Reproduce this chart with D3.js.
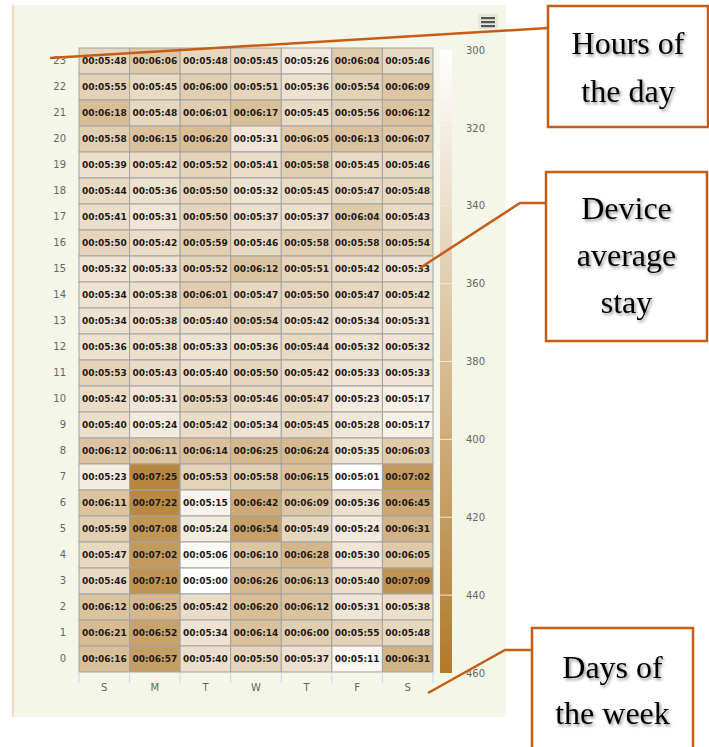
<!DOCTYPE html>
<html>
<head>
<meta charset="utf-8">
<script src="https://cdn.jsdelivr.net/npm/d3@7"></script>
<style>
  html, body { margin: 0; padding: 0; background: #fff; }
  svg { display: block; }
</style>
</head>
<body>
<div class="chart"></div>
<script>
const W = 709, H = 747;

const DAYS = ["S", "M", "T", "W", "T", "F", "S"];
const HOURS = d3.range(23, -1, -1); // top row is 23
// average stay per hour (rows 23..0), per day (S..S)
const STAY = [
  ["5:48", "6:06", "5:48", "5:45", "5:26", "6:04", "5:46"],
  ["5:55", "5:45", "6:00", "5:51", "5:36", "5:54", "6:09"],
  ["6:18", "5:48", "6:01", "6:17", "5:45", "5:56", "6:12"],
  ["5:58", "6:15", "6:20", "5:31", "6:05", "6:13", "6:07"],
  ["5:39", "5:42", "5:52", "5:41", "5:58", "5:45", "5:46"],
  ["5:44", "5:36", "5:50", "5:32", "5:45", "5:47", "5:48"],
  ["5:41", "5:31", "5:50", "5:37", "5:37", "6:04", "5:43"],
  ["5:50", "5:42", "5:59", "5:46", "5:58", "5:58", "5:54"],
  ["5:32", "5:33", "5:52", "6:12", "5:51", "5:42", "5:33"],
  ["5:34", "5:38", "6:01", "5:47", "5:50", "5:47", "5:42"],
  ["5:34", "5:38", "5:40", "5:54", "5:42", "5:34", "5:31"],
  ["5:36", "5:38", "5:33", "5:36", "5:44", "5:32", "5:32"],
  ["5:53", "5:43", "5:40", "5:50", "5:42", "5:33", "5:33"],
  ["5:42", "5:31", "5:53", "5:46", "5:47", "5:23", "5:17"],
  ["5:40", "5:24", "5:42", "5:34", "5:45", "5:28", "5:17"],
  ["6:12", "6:11", "6:14", "6:25", "6:24", "5:35", "6:03"],
  ["5:23", "7:25", "5:53", "5:58", "6:15", "5:01", "7:02"],
  ["6:11", "7:22", "5:15", "6:42", "6:09", "5:36", "6:45"],
  ["5:59", "7:08", "5:24", "6:54", "5:49", "5:24", "6:31"],
  ["5:47", "7:02", "5:06", "6:10", "6:28", "5:30", "6:05"],
  ["5:46", "7:10", "5:00", "6:26", "6:13", "5:40", "7:09"],
  ["6:12", "6:25", "5:42", "6:20", "6:12", "5:31", "5:38"],
  ["6:21", "6:52", "5:34", "6:14", "6:00", "5:55", "5:48"],
  ["6:16", "6:57", "5:40", "5:50", "5:37", "5:11", "6:31"]
];
const LEGEND_TICKS = [300, 320, 340, 360, 380, 400, 420, 440, 460];
const CALLOUTS = [
  { lines: ["Hours of", "the day"] },
  { lines: ["Device", "average", "stay"] },
  { lines: ["Days of", "the week"] }
];

const toSec = s => { const [m, x] = s.split(":").map(Number); return m * 60 + x; };
const fmt = s => "00:0" + s;

let cells = [];
HOURS.forEach((h, i) => {
  DAYS.forEach((d, j) => {
    cells.push({ hour: h, col: j, label: STAY[i][j], value: toSec(STAY[i][j]) });
  });
});

const svg = d3.select(".chart").append("svg").attr("width", W).attr("height", H);

const defs = svg.append("defs");
const grad = defs.append("linearGradient").attr("id", "lg").attr("x1", 0).attr("y1", 0).attr("x2", 0).attr("y2", 1);
grad.append("stop").attr("offset", "0%").attr("stop-color", "#ffffff");
grad.append("stop").attr("offset", "100%").attr("stop-color", "#b07a2a");
const shadow = defs.append("filter").attr("id", "sh").attr("x", "-10%").attr("y", "-10%").attr("width", "130%").attr("height", "140%");
shadow.append("feDropShadow").attr("dx", 1.5).attr("dy", 2).attr("stdDeviation", 1.5)
  .attr("flood-color", "#000").attr("flood-opacity", 0.45);

// chart panel
svg.append("rect").attr("x", 12).attr("y", 5).attr("width", 494).attr("height", 712).attr("fill", "#f4f7e8");
svg.append("rect").attr("x", 12).attr("y", 5).attr("width", 2).attr("height", 712).attr("fill", "#ecdcc4");

// scales
const x = d3.scaleBand().domain(d3.range(7)).range([79, 433]);
const y = d3.scaleBand().domain(HOURS).range([48, 672]);
const color = d3.scaleLinear().domain([300, 460]).range(["#ffffff", "#b07a2a"]).clamp(true);

const g = svg.append("g");
g.selectAll("rect.cell").data(cells).join("rect")
  .attr("class", "cell")
  .attr("x", d => x(d.col)).attr("y", d => y(d.hour))
  .attr("width", x.bandwidth()).attr("height", y.bandwidth())
  .attr("fill", d => color(d.value))
  .attr("stroke", "#a3a3a3").attr("stroke-width", 1);

g.selectAll("text.val").data(cells).join("text")
  .attr("class", "val")
  .attr("x", d => x(d.col) + x.bandwidth() / 2)
  .attr("y", d => y(d.hour) + y.bandwidth() / 2)
  .attr("dy", "0.35em")
  .attr("text-anchor", "middle")
  .attr("font-family", "DejaVu Sans, sans-serif")
  .attr("font-size", 9).attr("font-weight", "bold")
  .attr("fill", "#1a1a1a")
  .text(d => fmt(d.label));

// y axis (hours)
const yAxis = svg.append("g").attr("transform", "translate(66,0)")
  .call(d3.axisLeft(y).tickSize(0).tickPadding(0));
yAxis.select(".domain").remove();
yAxis.selectAll("text").attr("font-family", "DejaVu Sans, sans-serif").attr("font-size", 10).attr("fill", "#666");

// x axis (days)
const xAxis = svg.append("g").attr("transform", "translate(0,672)")
  .call(d3.axisBottom(x).tickFormat(i => DAYS[i]).tickSize(0).tickPadding(12));
xAxis.select(".domain").remove();
xAxis.selectAll("text").attr("font-family", "DejaVu Sans, sans-serif").attr("font-size", 10).attr("fill", "#666");
xAxis.selectAll("line.sep").data(d3.range(8)).join("line")
  .attr("class", "sep")
  .attr("x1", i => i < 7 ? x(i) : x(6) + x.bandwidth())
  .attr("x2", i => i < 7 ? x(i) : x(6) + x.bandwidth())
  .attr("y1", 0).attr("y2", 11)
  .attr("stroke", "#c8d6ea").attr("stroke-width", 1);

// legend
const ly = d3.scaleLinear().domain([300, 460]).range([50, 673]);
svg.append("rect").attr("x", 440).attr("y", ly(300)).attr("width", 12).attr("height", ly(460) - ly(300)).attr("fill", "url(#lg)");
svg.selectAll("line.lt").data(LEGEND_TICKS.slice(1, -1)).join("line")
  .attr("class", "lt")
  .attr("x1", 440).attr("x2", 452)
  .attr("y1", d => ly(d)).attr("y2", d => ly(d))
  .attr("stroke", "#e8e8e8").attr("stroke-width", 1);
const lAxis = svg.append("g").attr("transform", "translate(452,0)")
  .call(d3.axisRight(ly).tickValues(LEGEND_TICKS).tickSize(0).tickPadding(14));
lAxis.select(".domain").remove();
lAxis.selectAll("text").attr("font-family", "DejaVu Sans, sans-serif").attr("font-size", 10).attr("fill", "#666");

// menu button
const mb = svg.append("g");
mb.append("rect").attr("x", 478).attr("y", 14).attr("width", 20).attr("height", 15).attr("rx", 2).attr("fill", "#e4e8da");
[18, 22, 26].forEach(yy => mb.append("rect").attr("x", 481).attr("y", yy - 1).attr("width", 14).attr("height", 2.2).attr("fill", "#555"));

// callouts
const ORANGE = "#c55d17";
function callout(box, info, linePts, lineH) {
  svg.append("path")
    .attr("d", d3.line()(linePts))
    .attr("fill", "none").attr("stroke", ORANGE).attr("stroke-width", 2.5);
  svg.append("rect").attr("x", box[0]).attr("y", box[1]).attr("width", box[2]).attr("height", box[3])
    .attr("fill", "#fff").attr("stroke", ORANGE).attr("stroke-width", 2.5);
  const t = svg.append("text")
    .attr("font-family", "Liberation Serif, Times New Roman, serif")
    .attr("font-size", 32).attr("fill", "#000")
    .attr("text-anchor", "middle").attr("filter", "url(#sh)");
  info.lines.forEach((ln, i) => {
    t.append("tspan").attr("x", box[0] + box[2] / 2).attr("y", box[4] + i * lineH).text(ln);
  });
}
callout([548, 6, 160, 121, 54], CALLOUTS[0], [[50, 58], [548, 28]], 48);
callout([546, 172, 161, 169, 219], CALLOUTS[1], [[420, 268], [520, 203], [546, 203]], 47);
callout([532, 628, 161, 130, 678], CALLOUTS[2], [[428, 693], [505, 650], [532, 650]], 46);
</script>
</body>
</html>
